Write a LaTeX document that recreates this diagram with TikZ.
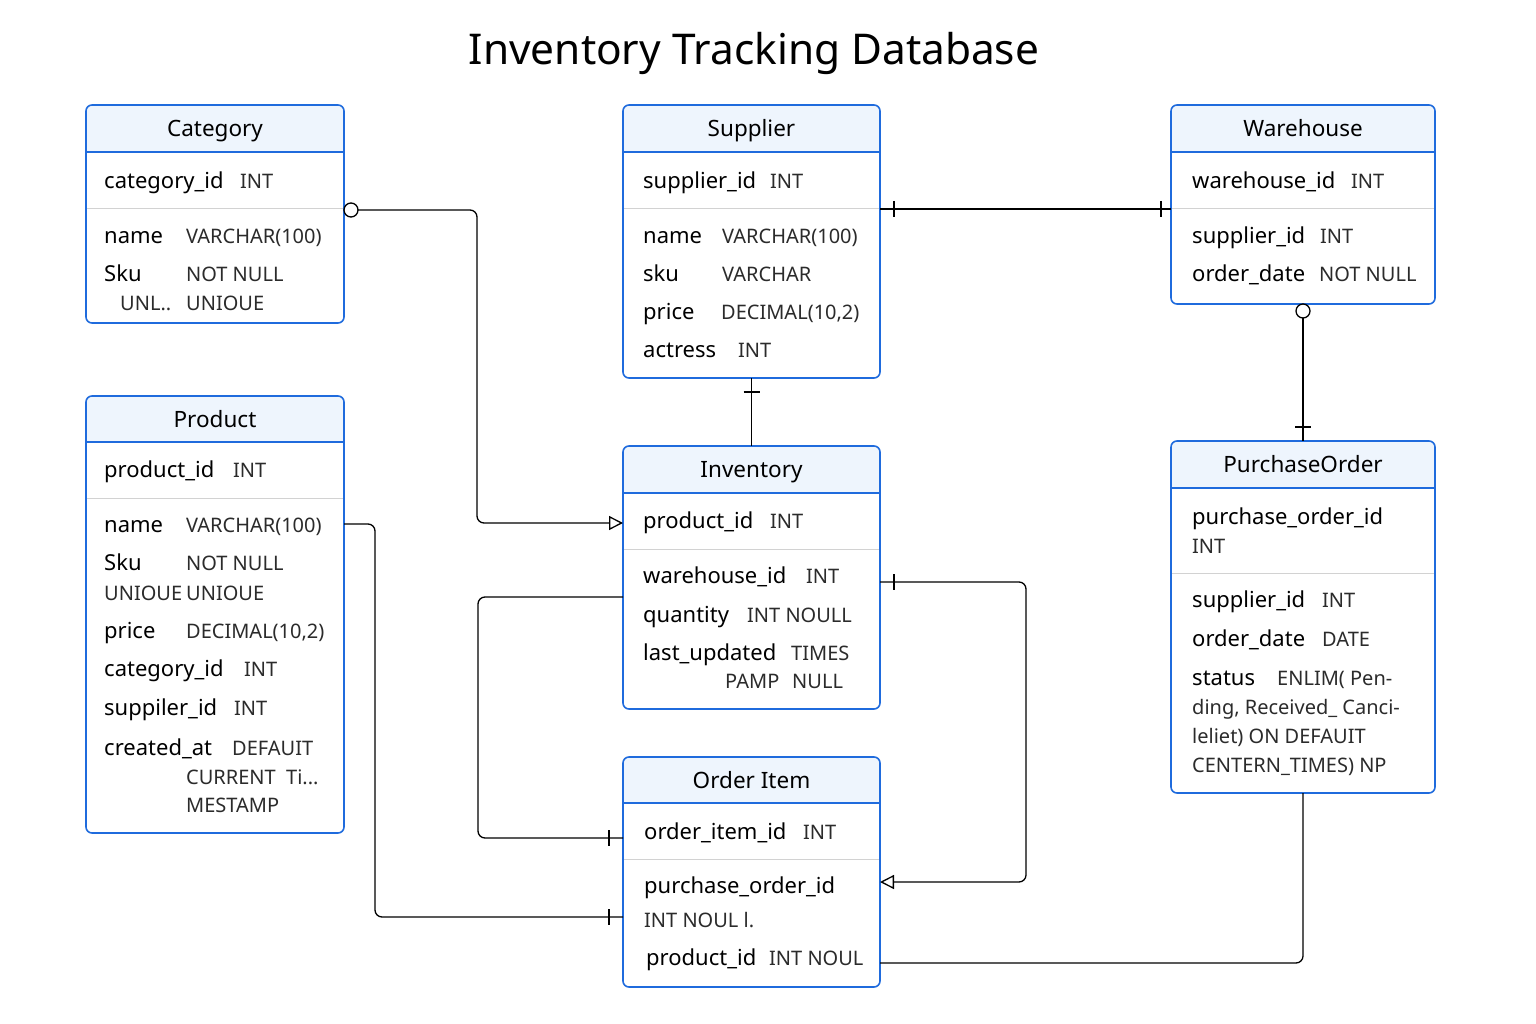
\documentclass[tikz,border=0pt]{standalone}
\usepackage{fontspec}
\setmainfont{Noto Sans}
\usetikzlibrary{arrows.meta}
\definecolor{boxblue}{HTML}{1F6BDD}
\definecolor{hdrfill}{HTML}{EEF5FD}
\definecolor{sepgray}{HTML}{D2D2D2}
\definecolor{typecol}{HTML}{2B2B2B}
\tikzset{
 tbl/.style={draw=boxblue, line width=1.6pt, rounded corners=6pt, inner sep=0pt, outer sep=0pt, anchor=north west},
 fname/.style={anchor=west, inner sep=0pt, text height=15.5pt, text depth=0pt, font=\fontsize{22}{25}\selectfont, text=black},
 ftype/.style={fname, text height=14.5pt, font=\fontsize{20}{23}\selectfont, text=typecol},
 ttl/.style={anchor=center, inner sep=0pt, text height=16pt, text depth=0pt, font=\fontsize{22.5}{25}\selectfont},
 conn/.style={draw=black, line width=1.3pt, rounded corners=7pt},
 tick/.style={draw=black, line width=1.3pt},
 ocirc/.style={draw=black, fill=white, line width=1.3pt},
 otri/.style={-{Triangle[open, length=14pt, width=14pt, line width=1.3pt]}}
}
% #1 name, #2 x, #3 y, #4 w, #5 h, #6 header bottom y, #7 separator y, #8 title
\newcommand\ertable[8]{%
  \begin{scope}
    \clip[rounded corners=6pt] (#2,#3) rectangle (#2+#4,#3+#5);
    \fill[white] (#2,#3) rectangle (#2+#4,#3+#5);
    \fill[hdrfill] (#2,#3) rectangle (#2+#4,#6);
  \end{scope}
  \draw[sepgray, line width=1pt] (#2,#7) -- (#2+#4,#7);
  \draw[boxblue, line width=1.6pt] (#2,#6) -- (#2+#4,#6);
  \node[tbl, minimum width=#4pt, minimum height=#5pt] (#1) at (#2,#3) {};
  \node[ttl] (#1title) at (#2+#4/2,{(#3+#6)/2}) {#8};
}
\begin{document}
\begin{tikzpicture}[x=1pt,y=-1pt]
\useasboundingbox (0,0) rectangle (1536,1024);
\fill[white] (0,0) rectangle (1536,1024);

\node[inner sep=0pt, text height=30pt, text depth=0pt, font=\fontsize{42.4}{48}\selectfont] (title) at (754,50) {Inventory Tracking Database};

\ertable{cat}{86}{105}{258}{218}{152}{209}{Category}
\ertable{sup}{623}{105}{257}{273}{152}{209}{Supplier}
\ertable{wh}{1171}{105}{264}{199}{152}{209}{Warehouse}
\ertable{prod}{86}{396}{258}{437}{442}{498}{Product}
\ertable{inv}{623}{446}{257}{263}{493}{549}{Inventory}
\ertable{oi}{623}{757}{257}{230}{803}{859}{Order Item}
\ertable{po}{1171}{441}{264}{352}{488}{573}{PurchaseOrder}

% Category fields
\node[fname] (c1n) at (104,181) {category\_id};
\node[ftype] (c1t) at (240,181) {INT};
\node[fname] (c2n) at (104,236) {name};
\node[ftype] (c2t) at (186,236) {VARCHAR(100)};
\node[fname] (c3n) at (104,274) {Sku};
\node[ftype] (c3t) at (186,274) {NOT NULL};
\node[ftype] (c4n) at (120,303) {UNL..};
\node[ftype] (c4t) at (186,303) {UNIOUE};

% Supplier fields
\node[fname] (s1n) at (643,181) {supplier\_id};
\node[ftype] (s1t) at (770,181) {INT};
\node[fname] (s2n) at (643,236) {name};
\node[ftype] (s2t) at (722,236) {VARCHAR(100)};
\node[fname] (s3n) at (643,274) {sku};
\node[ftype] (s3t) at (722,274) {VARCHAR};
\node[fname] (s4n) at (643,312) {price};
\node[ftype] (s4t) at (721,312) {DECIMAL(10,2)};
\node[fname] (s5n) at (643,350) {actress};
\node[ftype] (s5t) at (738,350) {INT};

% Warehouse fields
\node[fname] (w1n) at (1192,181) {warehouse\_id};
\node[ftype] (w1t) at (1351,181) {INT};
\node[fname] (w2n) at (1192,236) {supplier\_id};
\node[ftype] (w2t) at (1320,236) {INT};
\node[fname] (w3n) at (1192,274) {order\_date};
\node[ftype] (w3t) at (1319,274) {NOT NULL};

% Product fields
\node[fname] (p1n) at (104,470) {product\_id};
\node[ftype] (p1t) at (233,470) {INT};
\node[fname] (p2n) at (104,525) {name};
\node[ftype] (p2t) at (186,525) {VARCHAR(100)};
\node[fname] (p3n) at (104,563) {Sku};
\node[ftype] (p3t) at (186,563) {NOT NULL};
\node[ftype] (p4n) at (104,593) {UNIOUE};
\node[ftype] (p4t) at (186,593) {UNIOUE};
\node[fname] (p5n) at (104,631) {price};
\node[ftype] (p5t) at (186,631) {DECIMAL(10,2)};
\node[fname] (p6n) at (104,669) {category\_id};
\node[ftype] (p6t) at (244,669) {INT};
\node[fname] (p7n) at (104,708) {suppiler\_id};
\node[ftype] (p7t) at (234,708) {INT};
\node[fname] (p8n) at (104,748) {created\_at};
\node[ftype] (p8t) at (232,748) {DEFAUIT};
\node[ftype] (p9t) at (186,777) {CURRENT\ \ Ti...};
\node[ftype] (p10t) at (186,805) {MESTAMP};

% Inventory fields
\node[fname] (i1n) at (643,521) {product\_id};
\node[ftype] (i1t) at (770,521) {INT};
\node[fname] (i2n) at (643,576) {warehouse\_id};
\node[ftype] (i2t) at (806,576) {INT};
\node[fname] (i3n) at (643,615) {quantity};
\node[ftype] (i3t) at (747,615) {INT NOULL};
\node[fname] (i4n) at (643,653) {last\_updated};
\node[ftype] (i4t) at (791,653) {TIMES};
\node[ftype] (i5a) at (725,681) {PAMP};
\node[ftype] (i5b) at (792,681) {NULL};

% Order Item fields
\node[fname] (o1n) at (644,832) {order\_item\_id};
\node[ftype] (o1t) at (803,832) {INT};
\node[fname] (o2n) at (644,886) {purchase\_order\_id};
\node[ftype] (o3t) at (644,920) {INT NOUL l.};
\node[fname] (o4n) at (646,958) {product\_id};
\node[ftype] (o4t) at (769,958) {INT NOUL};

% PurchaseOrder fields
\node[fname] (q1n) at (1192,517) {purchase\_order\_id};
\node[ftype] (q1t) at (1192,546) {INT};
\node[fname] (q2n) at (1192,600) {supplier\_id};
\node[ftype] (q2t) at (1322,600) {INT};
\node[fname] (q3n) at (1192,639) {order\_date};
\node[ftype] (q3t) at (1322,639) {DATE};
\node[fname] (q4n) at (1192,678) {status};
\node[ftype] (q4t) at (1277,678) {ENLIM( Pen-};
\node[ftype] (q5t) at (1192,707) {ding,\ Received\_\ Canci-};
\node[ftype] (q6t) at (1192,736) {leliet) ON DEFAUIT};
\node[ftype] (q7t) at (1192,765) {CENTERN\_TIMES) NP};

% Connectors
% Category -> Inventory
\draw[conn, otri] ([xshift=14pt,yshift=-105pt]cat.north east) -- (477,210) -- (477,523) -- ([yshift=-77pt]inv.north west);
\draw[ocirc] ([xshift=7pt,yshift=-105pt]cat.north east) circle[radius=7pt];

% Supplier -- Warehouse
\draw[conn] ([yshift=-104pt]sup.north east) -- ([yshift=-104pt]wh.north west);
\draw[tick] ([xshift=14pt,yshift=-96pt]sup.north east) -- ++(0,16);
\draw[tick] ([xshift=-10pt,yshift=-96pt]wh.north west) -- ++(0,16);

% Supplier -- Inventory
\draw[conn] (sup.south) -- (inv.north);
\draw[tick] ([xshift=-8pt,yshift=-14pt]sup.south) -- ++(16,0);

% Warehouse -- PurchaseOrder
\draw[conn] ([yshift=-14pt]wh.south) -- (po.north);
\draw[ocirc] ([yshift=-7pt]wh.south) circle[radius=7pt];
\draw[tick] ([xshift=-8pt,yshift=14pt]po.north) -- ++(16,0);

% Inventory -- Order Item (left loop)
\draw[conn] ([yshift=-151pt]inv.north west) -- (478,597) -- (478,838) -- ([yshift=-81pt]oi.north west);
\draw[tick] ([xshift=-14pt,yshift=-73pt]oi.north west) -- ++(0,16);

% Product -- Order Item
\draw[conn] ([yshift=-128pt]prod.north east) -- (375,524) -- (375,917) -- ([yshift=-160pt]oi.north west);
\draw[tick] ([xshift=-14pt,yshift=-152pt]oi.north west) -- ++(0,16);

% Inventory -> Order Item (right loop)
\draw[conn, otri] ([yshift=-136pt]inv.north east) -- (1026,582) -- (1026,882) -- ([yshift=-125pt]oi.north east);
\draw[tick] ([xshift=14pt,yshift=-128pt]inv.north east) -- ++(0,16);

% PurchaseOrder -- Order Item
\draw[conn] (po.south) -- (1303,963) -- ([yshift=-206pt]oi.north east);
\end{tikzpicture}
\end{document}
